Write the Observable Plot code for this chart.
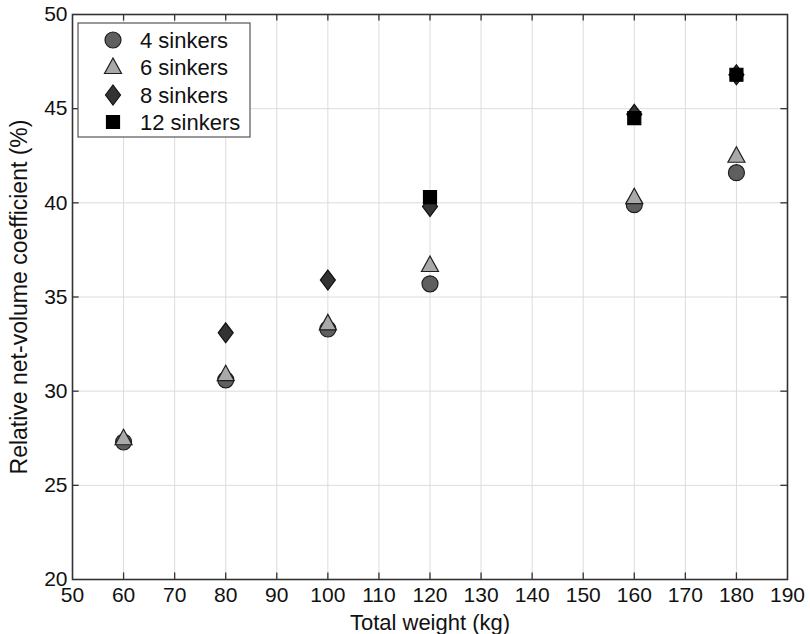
<!DOCTYPE html>
<html>
<head>
<meta charset="utf-8">
<script src="https://cdn.jsdelivr.net/npm/d3@7"></script>
<script src="https://cdn.jsdelivr.net/npm/@observablehq/plot@0.6"></script>
<style>
  html, body { margin: 0; padding: 0; background: #fff; }
  #chart { width: 810px; height: 634px; }
</style>
</head>
<body>
<div id="chart"></div>
<script>
// ---- data ----
const weights4 = [60, 80, 100, 120, 160, 180];
const sinkers4 = [27.3, 30.6, 33.3, 35.7, 39.9, 41.6];
const weights6 = [60, 80, 100, 120, 160, 180];
const sinkers6 = [27.5, 30.9, 33.6, 36.7, 40.3, 42.5];
const weights8 = [80, 100, 120, 160, 180];
const sinkers8 = [33.1, 35.9, 39.8, 44.7, 46.8];
const weights12 = [120, 160, 180];
const sinkers12 = [40.3, 44.5, 46.8];
const seriesNames = ["4 sinkers", "6 sinkers", "8 sinkers", "12 sinkers"];
const xTicks = [50, 60, 70, 80, 90, 100, 110, 120, 130, 140, 150, 160, 170, 180, 190];
const yTicks = [20, 25, 30, 35, 40, 45, 50];

const toRows = (xs, ys) => xs.map((x, i) => ({x, y: ys[i]}));
const d4 = toRows(weights4, sinkers4);
const d6 = toRows(weights6, sinkers6);
const d8 = toRows(weights8, sinkers8);
const d12 = toRows(weights12, sinkers12);

// ---- custom symbols ----
const symCircle = {draw(ctx) { ctx.moveTo(8, 0); ctx.arc(0, 0, 8, 0, 2 * Math.PI); }};
const symTriangle = {draw(ctx) { ctx.moveTo(0, -9); ctx.lineTo(8.5, 6.5); ctx.lineTo(-8.5, 6.5); ctx.closePath(); }};
const symDiamond = {draw(ctx) { ctx.moveTo(0, -10); ctx.lineTo(7.5, 0); ctx.lineTo(0, 10); ctx.lineTo(-7.5, 0); ctx.closePath(); }};
const symSquare = {draw(ctx) { ctx.rect(-6.5, -6.5, 13, 13); }};

const styles = [
  {symbol: symCircle, fill: "#5f5f5f", stroke: "#1e1e1e"},
  {symbol: symTriangle, fill: "#a9a9a9", stroke: "#1e1e1e"},
  {symbol: symDiamond, fill: "#333333", stroke: "#111111"},
  {symbol: symSquare, fill: "#000000", stroke: "#000000"}
];

const innerX = xTicks.slice(1, -1);
const innerY = yTicks.slice(1, -1);

const plot = Plot.plot({
  width: 810,
  height: 634,
  marginLeft: 72,
  marginRight: 23,
  marginTop: 14,
  marginBottom: 55,
  style: {fontFamily: "'Liberation Sans', Arial, sans-serif", fontSize: "21px", color: "#111", background: "#fff"},
  x: {domain: [50, 190]},
  y: {domain: [20, 50]},
  marks: [
    Plot.ruleX(innerX, {x: d => d, y1: 20, y2: 50, stroke: "#dcdcdc", strokeWidth: 1}),
    Plot.ruleY(innerY, {y: d => d, x1: 50, x2: 190, stroke: "#dcdcdc", strokeWidth: 1}),
    // inward ticks
    Plot.ruleX(innerX, {x: d => d, y1: 20, y2: 20.35, stroke: "#333", strokeWidth: 1.3}),
    Plot.ruleX(innerX, {x: d => d, y1: 50, y2: 49.65, stroke: "#333", strokeWidth: 1.3}),
    Plot.ruleY(innerY, {y: d => d, x1: 50, x2: 51.3, stroke: "#333", strokeWidth: 1.3}),
    Plot.ruleY(innerY, {y: d => d, x1: 190, x2: 188.7, stroke: "#333", strokeWidth: 1.3}),
    Plot.frame({stroke: "#333", strokeWidth: 1.6}),
    Plot.axisX({ticks: xTicks, tickSize: 0, tickPadding: 8, tickFormat: d => String(d), fontSize: 21,
      label: null}),
    Plot.axisX({ticks: [], tickSize: 0, fontSize: 22,
      label: "Total weight (kg)", labelAnchor: "center", labelArrow: "none", labelOffset: 50}),
    Plot.axisY({ticks: yTicks, tickSize: 0, tickPadding: 5, tickFormat: d => String(d), fontSize: 21,
      label: null}),
    Plot.axisY({ticks: [], tickSize: 0, fontSize: 23,
      label: "Relative net-volume coefficient (%)", labelAnchor: "center", labelArrow: "none", labelOffset: 62}),
    Plot.dot(d4, {x: "x", y: "y", ...styles[0], strokeWidth: 1.2}),
    Plot.dot(d6, {x: "x", y: "y", ...styles[1], strokeWidth: 1.2}),
    Plot.dot(d8, {x: "x", y: "y", ...styles[2], strokeWidth: 1.2}),
    Plot.dot(d12, {x: "x", y: "y", ...styles[3], strokeWidth: 1.2})
  ]
});

document.getElementById("chart").appendChild(plot);

// ---- legend (inside plot area, upper left) ----
const svg = d3.select(plot);
const lg = svg.append("g").attr("transform", "translate(78,23)");
lg.append("rect").attr("width", 172).attr("height", 114)
  .attr("fill", "#fff").attr("stroke", "#555").attr("stroke-width", 1.2);
const rowY = [17, 44, 72, 99];
seriesNames.forEach((name, i) => {
  const p = d3.path();
  styles[i].symbol.draw(p);
  lg.append("path").attr("d", p.toString())
    .attr("transform", `translate(35,${rowY[i]})`)
    .attr("fill", styles[i].fill).attr("stroke", styles[i].stroke).attr("stroke-width", 1.2);
  lg.append("text").attr("x", 62).attr("y", rowY[i]).attr("dy", "0.36em")
    .attr("text-anchor", "start")
    .attr("font-size", 22).attr("fill", "#111").text(name);
});
</script>
</body>
</html>
